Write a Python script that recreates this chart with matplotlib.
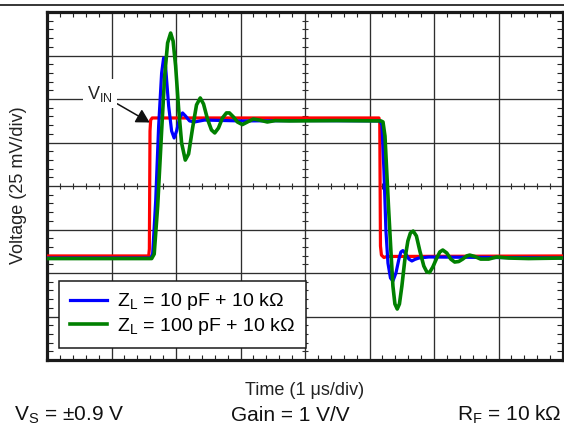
import matplotlib
matplotlib.use('Agg')
import matplotlib.pyplot as plt
import numpy as np
from matplotlib.lines import Line2D

plt.rcParams['font.family'] = ['Liberation Sans', 'DejaVu Sans']
plt.rcParams['mathtext.fontset'] = 'custom'
plt.rcParams['mathtext.rm'] = 'Liberation Sans'
plt.rcParams['mathtext.it'] = 'Liberation Sans:italic'
plt.rcParams['mathtext.bf'] = 'Liberation Sans:bold'

# ---- data (time in us, voltage in mV; 1 us/div, 25 mV/div) ----
vin_t = [0.0, 1.577, 1.587, 1.597, 1.607, 1.631, 5.147, 5.159, 5.170, 5.185, 5.224, 5.270, 8.0]
vin_v = [-40.2, -40.2, -36.2, 31.6, 37.9, 39.1, 39.1, 36.2, -34.5, -39.7, -41.1, -40.5, -40.2]

zl10_t = [0.0, 1.607, 1.638, 1.685, 1.731, 1.777, 1.808, 1.839, 1.886, 1.932, 1.971, 2.009,
          2.056, 2.102, 2.148, 2.210, 2.287, 2.442, 3.0, 4.0, 5.162, 5.193, 5.224, 5.255,
          5.286, 5.325, 5.363, 5.410, 5.456, 5.487, 5.518, 5.564, 5.611, 5.657, 5.703,
          5.765, 5.920, 8.0]
zl10_v = [-41.4, -41.4, -39.1, -8.6, 34.5, 64.9, 73.6, 68.4, 46.0, 31.6, 27.6, 31.6,
          39.1, 42.0, 40.2, 37.4, 36.8, 37.9, 37.4, 37.6, 37.4, 35.1, 8.6, -25.9,
          -44.3, -52.9, -54.6, -50.0, -42.0, -37.9, -37.1, -39.1, -42.0, -43.1, -42.2,
          -41.4, -40.8, -41.4]

zl100_t = [0.0, 1.623, 1.662, 1.716, 1.777, 1.824, 1.870, 1.917, 1.955, 1.994, 2.040, 2.087,
           2.144, 2.195, 2.257, 2.318, 2.376, 2.427, 2.488, 2.550, 2.601, 2.658, 2.720,
           2.782, 2.828, 2.890, 2.952, 3.029, 3.107, 3.199, 3.292, 3.416, 3.539, 3.756,
           4.5, 5.178, 5.209, 5.240, 5.263, 5.294, 5.332, 5.363, 5.394, 5.430, 5.464,
           5.502, 5.549, 5.595, 5.634, 5.677, 5.727, 5.781, 5.842, 5.889, 5.931, 5.981,
           6.043, 6.090, 6.136, 6.198, 6.260, 6.321, 6.383, 6.445, 6.507, 6.553, 6.631,
           6.723, 6.847, 6.971, 7.156, 7.465, 8.0]
zl100_v = [-41.7, -41.7, -39.1, -11.5, 31.6, 63.2, 82.2, 87.9, 83.3, 69.0, 44.8, 24.7,
           14.9, 18.4, 33.3, 46.6, 50.6, 47.1, 38.5, 32.2, 30.5, 33.3, 39.1,
           42.0, 42.0, 39.7, 36.8, 35.3, 36.8, 38.5, 37.9, 36.8, 37.6, 37.4,
           37.6, 37.4, 36.8, 28.7, 11.5, -11.5, -37.4, -57.5, -67.8, -70.7, -67.8,
           -57.5, -42.0, -31.6, -27.0, -25.9, -28.7, -37.4, -46.0, -49.4, -49.7, -46.6,
           -41.4, -37.9, -36.8, -38.5, -42.0, -43.7, -43.4, -42.0, -40.2, -39.7, -40.5,
           -42.0, -42.0, -40.8, -41.4, -41.7, -41.4]

series_labels = ['$\\mathregular{Z_L}$ = 10 pF + 10 k\u03A9',
                 '$\\mathregular{Z_L}$ = 100 pF + 10 k\u03A9']

W, H = 564, 428
fig = plt.figure(figsize=(W / 100, H / 100), dpi=100)
ax = fig.add_axes([47 / W, 68 / H, 516 / W, 348 / H])
ax.set_xlim(0, 8)
ax.set_ylim(-100, 100)

# grid
ax.set_xticks(np.arange(0, 9, 1))
ax.set_yticks(np.arange(-100, 101, 25))
ax.set_xticks(np.arange(0, 8.01, 0.2), minor=True)
ax.set_yticks(np.arange(-100, 100.1, 5), minor=True)
ax.grid(True, which='major', color='#2e2e2e', lw=0.95)
ax.tick_params(which='major', length=0, labelbottom=False, labelleft=False)
ax.tick_params(axis='x', which='minor', direction='in', length=3.6, width=0.8,
               top=True, bottom=True, color='#222222')
ax.tick_params(axis='y', which='minor', direction='in', length=4.3, width=0.8,
               left=True, right=True, color='#222222')
for s in ax.spines.values():
    s.set_linewidth(2.3)
    s.set_color('#1a1a1a')

# center cross ticks
ax.vlines(np.arange(0.2, 8, 0.2), -1.72, 1.72, color='#2e2e2e', lw=0.8, zorder=1.6)
ax.hlines(np.arange(-95, 100, 5), 4 - 0.046, 4 + 0.046, color='#2e2e2e', lw=0.8, zorder=1.6)

# curves
ax.plot(vin_t, vin_v, color='#ff0000', lw=2.3, solid_joinstyle='round', zorder=3)
l1, = ax.plot(zl10_t, zl10_v, color='#0000ff', lw=2.3, solid_joinstyle='round', zorder=4)
l2, = ax.plot(zl100_t, zl100_v, color='#008000', lw=2.6, solid_joinstyle='round', zorder=5)

leg = ax.legend([l1, l2], series_labels, loc='upper left',
                bbox_to_anchor=((59 - 47) / 516, (360 - 280.7) / 348),
                borderaxespad=0, fontsize=14, frameon=True, fancybox=False,
                handlelength=1.9, handletextpad=0.55, labelspacing=0.2,
                borderpad=0.55, framealpha=1)
leg.get_frame().set_edgecolor('#1a1a1a')
leg.get_frame().set_linewidth(1.1)
leg.set_zorder(10)

# VIN annotation
ax.annotate('$\\mathregular{V_{IN}}$', xy=(1.592, 36.5), xytext=(0.82, 53.0),
            fontsize=13, ha='center', va='center', color='#222222',
            bbox=dict(boxstyle='square,pad=0.25', fc='white', ec='none'),
            arrowprops=dict(arrowstyle='-|>,head_length=0.8,head_width=0.45',
                            color='#111111', lw=1.1, shrinkA=0, shrinkB=0,
                            mutation_scale=10),
            zorder=6)

# text
fig.text(305 / W, 1 - 395 / H, 'Time (1 \u03bcs/div)', ha='center', va='baseline',
         fontsize=13, color='#222222')
fig.text(18.5 / W, 1 - 185 / H, 'Voltage (25 mV/div)', rotation=90, ha='center',
         va='center', fontsize=13, color='#222222')
fig.text(14 / W, 1 - 421 / H, '$\\mathregular{V_S}$ = \u00b10.9 V', fontsize=15,
         va='baseline', color='#111111')
fig.text(231 / W, 1 - 421 / H, 'Gain = 1 V/V', fontsize=15, va='baseline', color='#111111')
fig.text(562 / W, 1 - 421 / H, '$\\mathregular{R_F}$ = 10 k\u03A9', fontsize=15,
         ha='right', va='baseline', color='#111111')

fig.add_artist(Line2D([0, 1], [1 - 5 / H] * 2, transform=fig.transFigure,
                      color='black', lw=1.1))

fig.savefig('out.png', dpi=100)
